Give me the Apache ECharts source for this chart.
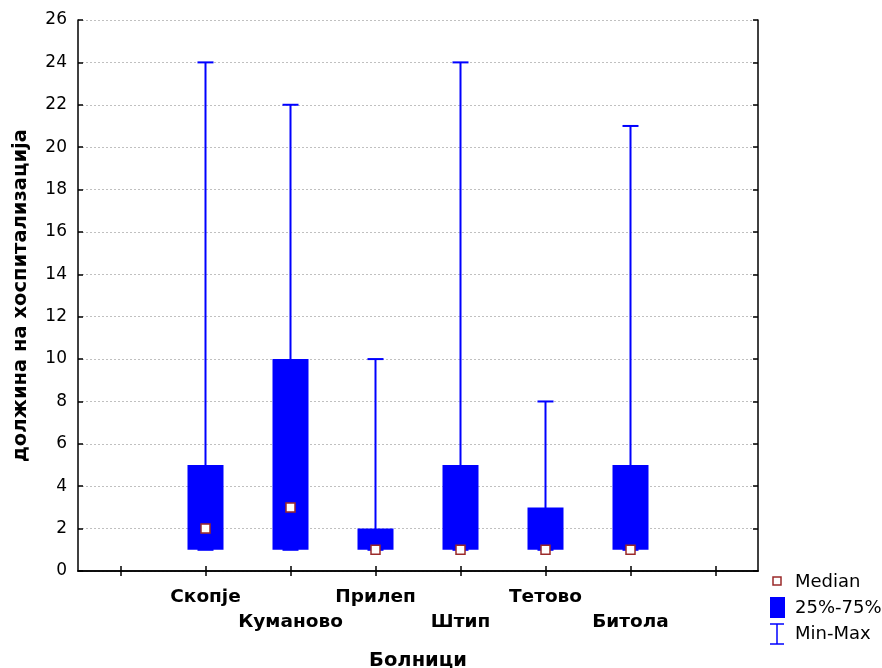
<!DOCTYPE html>
<html>
<head>
<meta charset="utf-8">
<script src="https://cdn.jsdelivr.net/npm/echarts@6/dist/echarts.min.js"></script>
<style>
  html, body { margin: 0; padding: 0; background: #fff; }
  #chart { width: 882px; height: 668px; }
</style>
</head>
<body>
<div id="chart"></div>
<script>
// Length of hospitalisation by hospital: min, quartiles, median, max
const hospitals = ['Скопје', 'Куманово', 'Прилеп', 'Штип', 'Тетово', 'Битола'];
const minVals    = [1, 1, 1, 1, 1, 1];
const q1Vals     = [1, 1, 1, 1, 1, 1];
const medianVals = [2, 3, 1, 1, 1, 1];
const q3Vals     = [5, 10, 2, 5, 3, 5];
const maxVals    = [24, 22, 10, 24, 8, 21];
const yTicks     = { min: 0, max: 26, step: 2 };

// Empty slots on either side of the hospitals
const cats = [''].concat(hospitals, ['']);

const BLUE = '#0000ff';
const FONT = '"DejaVu Sans", Verdana, sans-serif';

const boxData = hospitals.map((h, i) => [i + 1, q1Vals[i], q3Vals[i]]);
const whiskerData = hospitals.map((h, i) => [i + 1, minVals[i], maxVals[i]]);
const medianData = hospitals.map((h, i) => [i + 1, medianVals[i]]);

const chart = echarts.init(document.getElementById('chart'), null, { renderer: 'canvas' });

const axisLine = { show: true, lineStyle: { color: '#000', width: 1.5 } };
const axisTick = { show: true, inside: true, length: 5, lineStyle: { color: '#000', width: 1.5 } };

chart.setOption({
  animation: false,
  grid: { left: 78, right: 124, top: 20, bottom: 97, containLabel: false, outerBoundsMode: 'none' },
  xAxis: [
    {
      type: 'category', data: cats, position: 'bottom',
      axisLine, axisTick: Object.assign({ alignWithLabel: true }, axisTick),
      axisLabel: {
        interval: 0, margin: 14, fontFamily: FONT, fontSize: 18.5, fontWeight: 'bold',
        color: '#000', lineHeight: 25,
        formatter: (v, idx) => (idx % 2 === 0 ? '\n' + v : v)
      },
      name: 'Болници', nameLocation: 'middle', nameGap: 80,
      nameTextStyle: { fontFamily: FONT, fontSize: 19.5, fontWeight: 'bold', color: '#000' },
      splitLine: { show: false }
    },
    {
      type: 'category', data: cats, position: 'top',
      axisLine, axisTick: Object.assign({ alignWithLabel: true }, axisTick),
      axisLabel: { show: false }, splitLine: { show: false }
    }
  ],
  yAxis: [
    {
      type: 'value', min: yTicks.min, max: yTicks.max, interval: yTicks.step, position: 'left',
      axisLine, axisTick,
      axisLabel: { margin: 11, fontFamily: FONT, fontSize: 17, color: '#000' },
      name: 'должина на хоспитализација', nameLocation: 'middle', nameGap: 47,
      nameTextStyle: { fontFamily: FONT, fontSize: 19.5, fontWeight: 'bold', color: '#000' },
      splitLine: { show: true, lineStyle: { color: '#c0c0c0', type: [2, 2], width: 1 } }
    },
    {
      type: 'value', min: yTicks.min, max: yTicks.max, interval: yTicks.step, position: 'right',
      axisLine, axisTick, axisLabel: { show: false }, splitLine: { show: false }
    }
  ],
  series: [
    {
      name: 'Min-Max', type: 'custom', data: whiskerData, z: 2,
      renderItem: (params, api) => {
        const x = api.value(0);
        const lo = api.coord([x, api.value(1)]);
        const hi = api.coord([x, api.value(2)]);
        const capW = 16;
        const st = { stroke: BLUE, lineWidth: 2 };
        return {
          type: 'group',
          children: [
            { type: 'line', shape: { x1: hi[0], y1: hi[1], x2: lo[0], y2: lo[1] }, style: st },
            { type: 'line', shape: { x1: hi[0] - capW / 2, y1: hi[1], x2: hi[0] + capW / 2, y2: hi[1] }, style: st },
            { type: 'line', shape: { x1: lo[0] - capW / 2, y1: lo[1], x2: lo[0] + capW / 2, y2: lo[1] }, style: st }
          ]
        };
      }
    },
    {
      name: '25%-75%', type: 'custom', data: boxData, z: 3,
      renderItem: (params, api) => {
        const x = api.value(0);
        const lo = api.coord([x, api.value(1)]);
        const hi = api.coord([x, api.value(2)]);
        const w = 36;
        return {
          type: 'rect',
          shape: { x: lo[0] - w / 2, y: hi[1], width: w, height: lo[1] - hi[1] },
          style: { fill: BLUE }
        };
      }
    },
    {
      name: 'Median', type: 'scatter', data: medianData, z: 4,
      symbol: 'rect', symbolSize: 9,
      itemStyle: { color: '#fff', borderColor: '#9b2a2a', borderWidth: 1.5, opacity: 1 }
    }
  ],
  graphic: [
    // Legend: median marker
    { type: 'rect', shape: { x: 773, y: 577, width: 8, height: 8 },
      style: { fill: '#fff', stroke: '#9b2a2a', lineWidth: 1.5 } },
    { type: 'text', x: 795, y: 582,
      style: { text: 'Median', fill: '#000', font: '18px ' + FONT, textVerticalAlign: 'middle' } },
    // Legend: interquartile box
    { type: 'rect', shape: { x: 770, y: 597, width: 15, height: 21 }, style: { fill: BLUE } },
    { type: 'text', x: 795, y: 608,
      style: { text: '25%-75%', fill: '#000', font: '18px ' + FONT, textVerticalAlign: 'middle' } },
    // Legend: min-max whisker
    { type: 'line', shape: { x1: 770, y1: 624, x2: 784, y2: 624 }, style: { stroke: BLUE, lineWidth: 1.5 } },
    { type: 'line', shape: { x1: 777, y1: 624, x2: 777, y2: 644 }, style: { stroke: BLUE, lineWidth: 1.5 } },
    { type: 'line', shape: { x1: 770, y1: 644, x2: 784, y2: 644 }, style: { stroke: BLUE, lineWidth: 1.5 } },
    { type: 'text', x: 795, y: 634,
      style: { text: 'Min-Max', fill: '#000', font: '18px ' + FONT, textVerticalAlign: 'middle' } }
  ]
});
</script>
</body>
</html>
